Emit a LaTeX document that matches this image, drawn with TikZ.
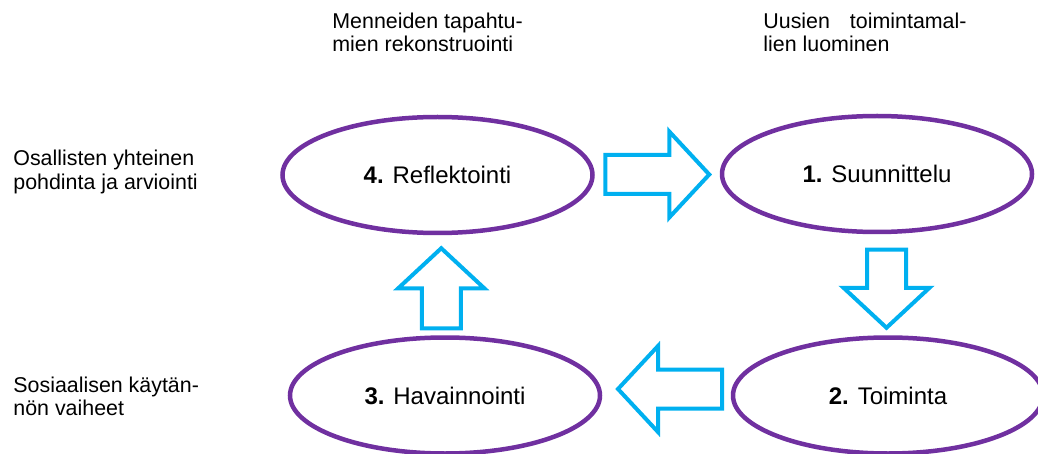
\documentclass[tikz,border=0pt]{standalone}
\usepackage{fontspec}
\setmainfont{Liberation Sans}
\usetikzlibrary{calc,shapes.geometric}
\definecolor{cyclecolor0000}{RGB}{112,48,160}
\definecolor{cyclecolor0001}{RGB}{0,176,240}
\definecolor{cyclecolor0002}{RGB}{0,0,0}

\begin{document}
\begin{tikzpicture}[yscale=-1
,cstyle0/.style={ellipse,draw=cyclecolor0000,line width=2.25pt,minimum width=155pt,minimum height=58pt,inner sep=0pt,text=cyclecolor0002,font=\fontsize{12}{14}\selectfont}
,cstyle1/.style={color=cyclecolor0001,fill=white,line width=2pt,line join=miter}
,cstyle2/.style={inner sep=0pt,anchor=north west,align=left,text=cyclecolor0002,font=\fontsize{10.7}{11.6}\selectfont}
,pics/blockarrow/.style={code={\draw[cstyle1] ({1pt-#1pt},-9.75pt) -- ({#1pt-21pt},-9.75pt) -- ({#1pt-21pt},-21.5pt) -- ({#1pt-1pt},0pt) -- ({#1pt-21pt},21.5pt) -- ({#1pt-21pt},9.75pt) -- ({1pt-#1pt},9.75pt) -- cycle;}}
]
\useasboundingbox (0pt,0pt) rectangle (519pt,227pt);
\node[cstyle0] (reflektointi) at (218.75pt,87.5pt) {\textbf{4.} Reflektointi};
\node[cstyle0] (suunnittelu) at (438.5pt,87pt) {\textbf{1.} Suunnittelu};
\node[cstyle0] (toiminta) at (444pt,197.75pt) {\textbf{2.} Toiminta};
\node[cstyle0] (havainnointi) at (222.5pt,197.75pt) {\textbf{3.} Havainnointi};
\node[cstyle2] (menneet) at (166pt,6.25pt) {Menneiden tapahtu-\\mien rekonstruointi};
\node[cstyle2] (uudet) at (381.5pt,6.25pt) {Uusien\hspace{10pt}toimintamal-\\lien luominen};
\node[cstyle2] (osalliset) at (6.5pt,75pt) {Osallisten yhteinen\\pohdinta ja arviointi};
\node[cstyle2] (vaiheet) at (6.5pt,188.25pt) {Sosiaalisen käytän-\\nön vaiheet};
\pic at ($(reflektointi.east)!0.5!(suunnittelu.west)$) {blockarrow=27};
\pic[rotate=-90] at ($(suunnittelu.south)!0.5!(toiminta.north)+(2pt,2pt)$) {blockarrow=20.5};
\pic[rotate=180] at ($(toiminta.west)!0.5!(havainnointi.east)+(1.75pt,-3.25pt)$) {blockarrow=27};
\pic[rotate=90] at ($(havainnointi.north)!0.5!(reflektointi.south)+(0pt,1.5pt)$) {blockarrow=21};
\end{tikzpicture}
\end{document}
